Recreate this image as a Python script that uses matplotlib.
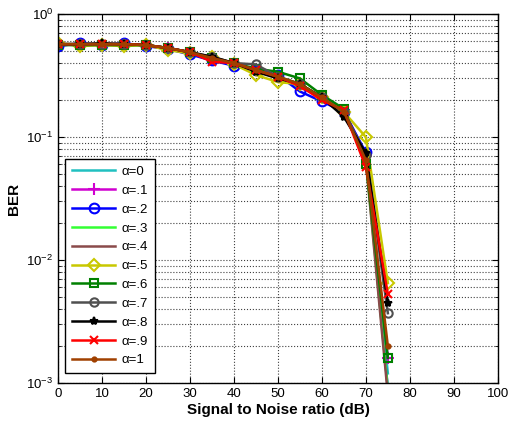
import numpy as np
import matplotlib.pyplot as plt
from matplotlib.ticker import LogLocator, NullFormatter

plt.rcParams['font.family'] = ['Liberation Sans', 'DejaVu Sans']

# SNR values (dB)
snr = [0, 5, 10, 15, 20, 25, 30, 35, 40, 45, 50, 55, 60, 65, 70, 75]

# BER per alpha
ber_a0 = [0.57, 0.57, 0.57, 0.57, 0.56, 0.53, 0.49, 0.44, 0.40, 0.35, 0.31, 0.26, 0.21, 0.165, 0.068, 0.0012]
ber_a1 = [0.56, 0.57, 0.56, 0.57, 0.56, 0.53, 0.49, 0.43, 0.39, 0.35, 0.31, 0.26, 0.21, 0.165, 0.072, 0.0016]
ber_a2 = [0.55, 0.58, 0.56, 0.58, 0.55, 0.52, 0.47, 0.42, 0.38, 0.35, 0.32, 0.235, 0.195, 0.16, 0.075, 0.0009]
ber_a3 = [0.57, 0.57, 0.57, 0.57, 0.56, 0.53, 0.49, 0.44, 0.40, 0.35, 0.31, 0.27, 0.21, 0.16, 0.066, 0.0009]
ber_a4 = [0.57, 0.57, 0.57, 0.57, 0.56, 0.53, 0.49, 0.44, 0.40, 0.35, 0.31, 0.27, 0.21, 0.16, 0.064, 0.0008]
ber_a5 = [0.58, 0.55, 0.56, 0.55, 0.56, 0.51, 0.48, 0.45, 0.39, 0.32, 0.28, 0.27, 0.21, 0.16, 0.10, 0.0065]
ber_a6 = [0.56, 0.56, 0.56, 0.56, 0.56, 0.53, 0.49, 0.44, 0.40, 0.36, 0.34, 0.30, 0.22, 0.17, 0.061, 0.0016]
ber_a7 = [0.57, 0.57, 0.57, 0.57, 0.56, 0.53, 0.49, 0.45, 0.40, 0.39, 0.31, 0.27, 0.21, 0.16, 0.072, 0.0037]
ber_a8 = [0.57, 0.57, 0.58, 0.57, 0.56, 0.53, 0.49, 0.45, 0.40, 0.34, 0.30, 0.27, 0.21, 0.146, 0.074, 0.0045]
ber_a9 = [0.57, 0.57, 0.57, 0.57, 0.56, 0.53, 0.49, 0.41, 0.40, 0.35, 0.31, 0.26, 0.20, 0.165, 0.057, 0.0053]
ber_a10 = [0.57, 0.57, 0.57, 0.57, 0.56, 0.53, 0.49, 0.44, 0.40, 0.35, 0.31, 0.27, 0.21, 0.16, 0.065, 0.0020]

labels = ['α=0', 'α=.1', 'α=.2', 'α=.3', 'α=.4', 'α=.5', 'α=.6', 'α=.7', 'α=.8', 'α=.9', 'α=1']
all_ber = [ber_a0, ber_a1, ber_a2, ber_a3, ber_a4, ber_a5, ber_a6, ber_a7, ber_a8, ber_a9, ber_a10]

styles = [
    ('#20c0c0', None, 6),
    ('#d000d0', '+', 8),
    ('#0000ff', 'o', 7),
    ('#33ff33', None, 6),
    ('#8a4a4a', None, 6),
    ('#c8c800', 'D', 6),
    ('#008000', 's', 6),
    ('#505050', 'o', 6),
    ('#000000', '*', 6),
    ('#ff0000', 'x', 6),
    ('#a04000', '.', 6),
]

fig = plt.figure(figsize=(5.1, 4.28), dpi=100)
ax = fig.add_axes([0.114, 0.105, 0.862, 0.862])

for ber, lab, (col, mk, ms) in zip(all_ber, labels, styles):
    ax.semilogy(snr, ber, color=col, marker=mk, markersize=ms,
                markerfacecolor='none' if mk in ('o', 'D', 's') else col,
                markeredgewidth=1.5, linewidth=1.8, label=lab)

ax.set_xlim(0, 100)
ax.set_ylim(1e-3, 1)
ax.set_xticks(range(0, 101, 10))
ax.yaxis.set_major_locator(LogLocator(base=10, numticks=10))
ax.yaxis.set_minor_locator(LogLocator(base=10, subs=np.arange(2, 10), numticks=10))
ax.yaxis.set_minor_formatter(NullFormatter())

ax.grid(True, which='major', color='#404040', linestyle=':', linewidth=0.8)
ax.grid(True, which='minor', axis='y', color='#404040', linestyle=':', linewidth=0.8)
ax.tick_params(which='both', direction='in', top=True, right=True, labelsize=9.5)
ax.tick_params(which='major', length=4)
ax.tick_params(which='minor', length=2)
for s in ax.spines.values():
    s.set_linewidth(1.0)

ax.set_xlabel('Signal to Noise ratio (dB)', fontsize=11, fontweight='bold', labelpad=2)
ax.set_ylabel('BER', fontsize=11, fontweight='bold')

leg = ax.legend(loc='lower left', bbox_to_anchor=(0.01, 0.02), fontsize=9.5, fancybox=False,
                framealpha=1, edgecolor='black', handlelength=3.3, labelspacing=0.5,
                borderpad=0.5, handletextpad=0.5, borderaxespad=0.2)
leg.get_frame().set_linewidth(1.0)

fig.savefig('out.png', dpi=100)
